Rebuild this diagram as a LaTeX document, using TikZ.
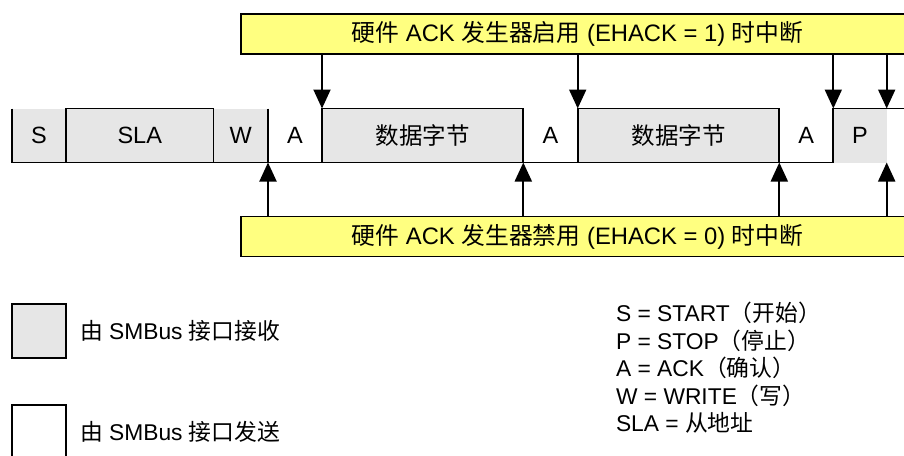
\documentclass[tikz,border=0pt]{standalone}
\usepackage{fontspec}
\setmainfont{Liberation Sans}
\newfontfamily\cjkf{Noto Sans CJK SC}
\newcommand\zhs[1]{{\cjkf #1}}
\usetikzlibrary{arrows.meta}
\definecolor{ybox}{RGB}{255,255,128}
\definecolor{gfill}{RGB}{230,230,230}
\begin{document}
\begin{tikzpicture}[x=1pt,y=-1pt,
  every node/.style={inner sep=0pt, outer sep=0pt},
  lw/.style={line width=1.9pt},
  seg/.style={minimum height=54pt, font=\fontsize{23.5}{27}\selectfont},
  gbox/.style={seg, lw, draw=black, fill=gfill},
  gseg/.style={seg, fill=gfill},
  wseg/.style={seg},
  ybar/.style={lw, draw=black, fill=ybox, minimum width=673pt, minimum height=40pt, font=\fontsize{23.8}{27}\selectfont},
  arr/.style={lw, -{Triangle[width=17pt,length=19pt]}},
  legbox/.style={lw, draw=black, minimum width=54pt, minimum height=54pt},
  legtxt/.style={anchor=base west, font=\fontsize{22.8}{26}\selectfont}
]
\useasboundingbox (0,0) rectangle (904,455);
\clip (0,0) rectangle (904,455);

% row of fields
\node[gseg, minimum width=54pt]    (S)   at (39,135.5)    {S};
\node[gbox, minimum width=147.5pt] (SLA) at (139.75,135.5) {SLA};
\node[gseg, minimum width=54.5pt]  (W)   at (240.75,135.5) {W};
\node[wseg, minimum width=54pt]    (A1)  at (295,135.5)   {A};
\node[gbox, minimum width=201.3pt] (D1)  at (422.65,135.5) {\zhs{数据字节}};
\node[wseg, minimum width=54.4pt]  (A2)  at (550.5,135.5) {A};
\node[gbox, minimum width=201.6pt] (D2)  at (678.5,135.5) {\zhs{数据字节}};
\node[wseg, minimum width=54pt]    (A3)  at (806.3,135.5) {A};
\node[gseg, minimum width=53.4pt]  (P)   at (860,135.5)   {P};
\coordinate (edge) at (910,108.5);

\draw[lw] (S.north west) -- (S.south west) -- (A3.south east) -- (A3.north east) -- (edge);
\draw[lw] (W.north east) -- (W.south east);

% interrupt bars
\node[ybar] (top) at (577.5,34)
  {\zhs{硬件} ACK \zhs{发生器启用} (EHACK = 1) \zhs{时中断}};
\node[ybar] (bot) at (577.5,236.5)
  {\zhs{硬件} ACK \zhs{发生器禁用} (EHACK = 0) \zhs{时中断}};

\draw[arr] (top.south -| D1.north west) -- (D1.north west);
\draw[arr] (top.south -| D2.north west) -- (D2.north west);
\draw[arr] (top.south -| P.north west) -- (P.north west);
\draw[arr] (top.south -| P.north east) -- (P.north east);

\draw[arr] (bot.north -| A1.south west) -- (A1.south west);
\draw[arr] (bot.north -| A2.south west) -- (A2.south west);
\draw[arr] (bot.north -| A3.south west) -- (A3.south west);
\draw[arr] (bot.north -| P.south east) -- (P.south east);

% legend
\node[legbox, fill=gfill] (LR) at (39,331) {};
\node[legbox] (LT) at (39,432) {};
\node[legtxt] (LRt) at (80,339) {\zhs{由} SMBus \zhs{接口接收}};
\node[legtxt] (LTt) at (80,440) {\zhs{由} SMBus \zhs{接口发送}};

\node[legtxt] (k1) at (616,321.5) {S = START\zhs{（开始）}};
\node[legtxt] (k2) at (616,349)   {P = STOP\zhs{（停止）}};
\node[legtxt] (k3) at (616,376.5) {A = ACK\zhs{（确认）}};
\node[legtxt] (k4) at (616,404)   {W = WRITE\zhs{（写）}};
\node[legtxt] (k5) at (616,431.5) {SLA = \zhs{从地址}};
\end{tikzpicture}
\end{document}
